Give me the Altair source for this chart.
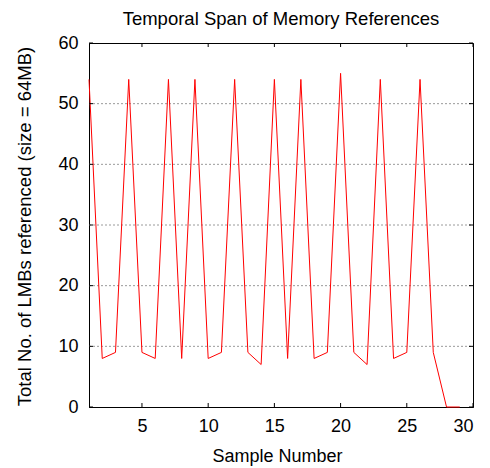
import altair as alt
import pandas as pd

samples = list(range(1, 30))
lmbs = [54, 8, 9, 54, 9, 8, 54, 8, 54, 8, 9, 54, 9, 7, 54, 8, 54, 8, 9, 55,
        9, 7, 54, 8, 9, 54, 9, 0, 0]
x_ticks = [5, 10, 15, 20, 25, 30]
y_ticks = [0, 10, 20, 30, 40, 50, 60]
grid_vals = [10, 20, 30, 40, 50]

df = pd.DataFrame({"x": samples, "y": lmbs})
xt = pd.DataFrame({"x": x_ticks})
yt = pd.DataFrame({"y": y_ticks})
gd = pd.DataFrame({"y": grid_vals})

FONT = "Liberation Sans"
FS = 18
W, H = 384, 364
TL = 4

xscale = alt.Scale(domain=[1, 30], nice=False, zero=False)
yscale = alt.Scale(domain=[0, 60], nice=False)

xaxis = alt.Axis(values=x_ticks, title="Sample Number", grid=False, zindex=0,
                 labelPadding=10, titleX=W / 2 - 4, titleY=54,
                 titleBaseline="alphabetic", titleAlign="center")
yaxis = alt.Axis(values=y_ticks, title="Total No. of LMBs referenced (size = 64MB)",
                 grid=False, zindex=0, labelPadding=11, titleX=-65, titleY=H / 2 + 1,
                 titleAngle=-90, titleBaseline="middle", titleAlign="center",
                 titleFontSize=18.5)

X = alt.X("x:Q", scale=xscale, axis=xaxis)
Y = alt.Y("y:Q", scale=yscale, axis=yaxis)

grid = alt.Chart(gd).mark_rule(color="#9a9a9a", strokeWidth=1, strokeDash=[2, 2]).encode(
    y=Y, x=alt.value(0), x2=alt.value(W),
)

line = alt.Chart(df).mark_line(color="#ff0000", strokeWidth=1, clip=False).encode(
    x=X, y=Y,
)

tb = alt.Chart(xt).mark_rule(color="black", strokeWidth=1).encode(
    x=X, y=alt.value(H), y2=alt.value(H - TL))
tt = alt.Chart(xt).mark_rule(color="black", strokeWidth=1).encode(
    x=X, y=alt.value(0), y2=alt.value(TL))
tl = alt.Chart(yt).mark_rule(color="black", strokeWidth=1).encode(
    y=Y, x=alt.value(0), x2=alt.value(TL))
tr = alt.Chart(yt).mark_rule(color="black", strokeWidth=1).encode(
    y=Y, x=alt.value(W), x2=alt.value(W - TL))

chart = alt.layer(grid, line, tb, tt, tl, tr).properties(
    width=W, height=H,
    title=alt.TitleParams("Temporal Span of Memory References", font=FONT, fontSize=18.5,
                          fontWeight="normal", color="black", anchor="middle",
                          frame="group", baseline="bottom", offset=11, dy=24),
    autosize=alt.AutoSizeParams(type="none"),
    padding={"left": 89, "top": 43, "right": 17, "bottom": 61},
).configure_view(
    stroke="black", strokeWidth=1
).configure_axis(
    domainColor="black", domainWidth=1, ticks=False, tickSize=0,
    labelFont=FONT, labelFontSize=FS, labelColor="black",
    titleFont=FONT, titleFontSize=FS, titleColor="black", titleFontWeight="normal",
)

chart.save("out.html", embed_options={"renderer": "svg", "actions": False})
